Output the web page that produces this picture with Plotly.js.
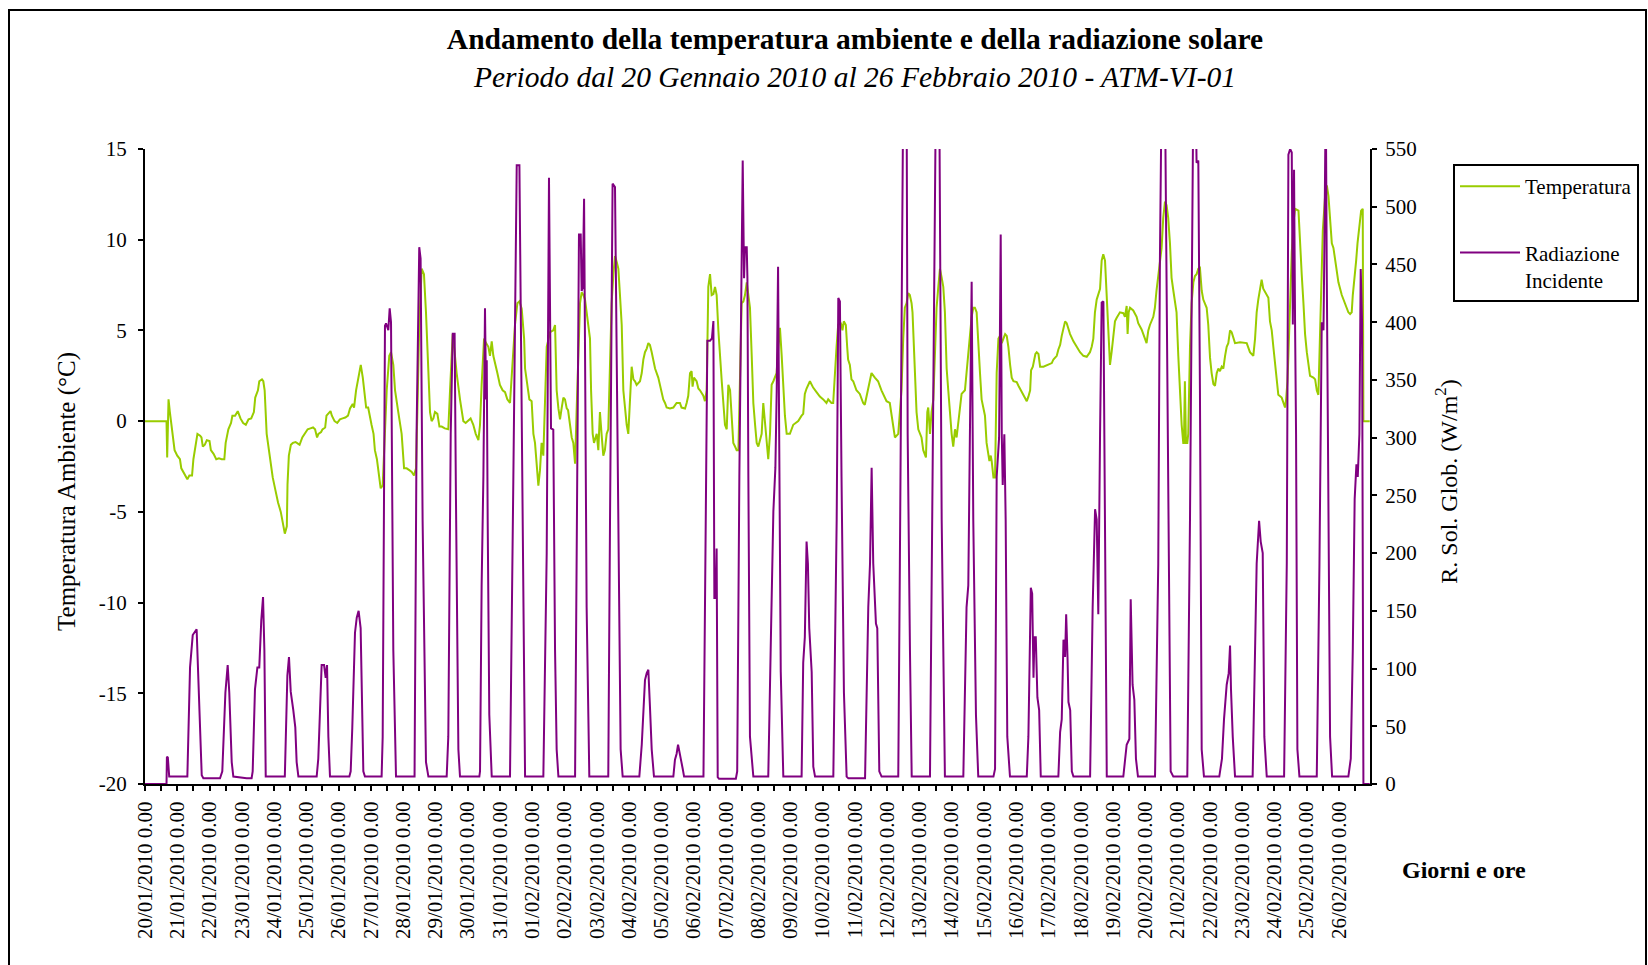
<!DOCTYPE html>
<html>
<head>
<meta charset="utf-8">
<script src="https://cdn.plot.ly/plotly-3.0.1.min.js"></script>
<style>html,body{margin:0;padding:0;background:#fff}#chart{width:1648px;height:965px}</style>
</head>
<body>
<div id="chart"></div>
<script>
// ---- DATA (hours elapsed since 20/01/2010 00:00, value) ----
const inizio = Date.UTC(2010, 0, 20);
const fineOre = 911.2;

const lettureTemperatura = [
[0,0],[16,0],[16.5,-2.0],[17.5,1.2],[18.5,0.5],[20,-0.45],[21,-1.2],[22,-1.6],[24,-1.9],[26,-2.1],[27,-2.6],[30,-3.0],[31.5,-3.2],[33,-3.0],[35,-3.0],[36,-2.1],[38,-1.2],[39,-0.7],[41,-0.8],[42,-0.9],[43,-1.4],[44.5,-1.3],[46,-1.05],[48,-1.1],[49,-1.6],[51,-1.8],[53,-2.1],[55,-2.05],[57,-2.1],[59,-2.1],[60,-1.2],[62,-0.45],[64,-0.1],[65,0.3],[67,0.3],[69,0.55],[71,0.15],[73,-0.1],[75,-0.2],[77,0.1],[79,0.15],[81,0.5],[82,1.3],[84,1.7],[85,2.2],[87,2.3],[88,2.2],[89,1.7],[90.5,-0.7],[92,-1.6],[93,-2.2],[95,-3.1],[97,-3.8],[99,-4.5],[101,-5.0],[102.5,-5.7],[104,-6.2],[105.5,-5.8],[106,-3.5],[107,-1.9],[108.5,-1.3],[110,-1.2],[112,-1.15],[114,-1.25],[115,-1.3],[117,-0.9],[119,-0.7],[121,-0.45],[123,-0.4],[125,-0.35],[126.5,-0.45],[128,-0.9],[129,-0.7],[131,-0.6],[132,-0.45],[134,-0.35],[135,0.3],[138,0.55],[139,0.3],[141,0],[143,-0.1],[145,0.1],[147,0.15],[149,0.2],[151,0.3],[152.5,0.7],[154.5,0.95],[155.5,0.75],[157,1.7],[159,2.65],[160.5,3.1],[162,2.4],[163,1.7],[164.5,0.75],[166,0.75],[167,0.3],[168.5,-0.2],[170,-0.7],[171,-1.6],[172.5,-2.1],[173.5,-2.6],[175.3,-3.7],[176.8,-3.55],[178.5,-0.5],[179.8,1.7],[181.7,3.6],[183,3.8],[184.7,3.1],[186,1.7],[188.4,0.5],[190.9,-0.7],[192.7,-2.6],[194.6,-2.6],[196.6,-2.7],[198.4,-2.8],[200.1,-3.0],[201.6,-2.6],[202.6,0.5],[204,5.3],[205.8,8.4],[207.5,8.1],[209,6.0],[210.8,2.9],[212,0.5],[213.2,0],[214.5,0.15],[215.7,0.5],[217.5,0.4],[219,-0.3],[220.7,-0.3],[223,-0.4],[225.6,-0.45],[226.9,1.7],[228.9,4.8],[230.3,3.8],[231.8,2.65],[234.3,1.2],[236.8,0],[238.5,-0.1],[240.5,0.05],[242.2,0.15],[244.2,-0.2],[246,-0.7],[248,-1.05],[249.2,-0.2],[250.4,2.0],[252.2,4.55],[253.7,4.3],[255.4,4.1],[256.6,3.6],[257.9,4.4],[259.1,3.6],[260.4,3.25],[262.1,2.65],[264,2.0],[266,1.7],[267.8,1.6],[269.5,1.2],[271.5,1.0],[273.5,3.1],[275.2,5.3],[277,6.5],[278.5,6.6],[280.2,6.2],[282,4.55],[282.7,2.9],[284.4,2.0],[285.9,1.2],[287.6,1.1],[288.9,-0.7],[290.1,-1.2],[291.3,-2.35],[292.6,-3.55],[293.8,-2.7],[295,-1.2],[296.3,-1.9],[297.5,1.7],[298.8,4.1],[301.3,4.9],[303.7,5.0],[305,5.3],[306.2,1.7],
[307.5,0.7],[308.7,0.1],[309.9,0.7],[311.2,1.3],[312.4,1.2],[313.7,0.7],[314.7,0.6],[316.1,-0.2],[317.4,-0.9],[318.6,-1.2],[319.9,-2.35],[321.1,0.7],[322.3,4.1],[323.6,6.5],[324.8,7.1],[326.1,6.95],[327.3,6.7],[328.5,6.0],[329.8,5.0],[331,4.55],[331.8,1.7],[333,-0.7],[334,-1.2],[336,-0.7],[337.2,-1.6],[338.4,0.5],[339.6,-0.7],[340.9,-1.9],[342.1,-1.6],[343.4,-0.7],[344.6,-0.45],[345.9,2.65],[347.1,6.5],[348.4,8.1],[349.6,9.1],[350.8,8.8],[352.1,8.4],[353.3,6.95],[354.6,5.3],[355.8,1.7],[357.1,0.5],[358.3,-0.2],[359.5,-0.7],[360.8,1.7],[362,3.0],[363.3,2.3],[364.5,2.2],[365.7,2.0],[368.2,2.2],[369.5,2.65],[370.7,3.4],[371.9,3.8],[373.2,4.0],[374.4,4.3],[375.6,4.2],[376.9,3.8],[378.1,3.4],[379.4,2.9],[381.8,2.4],[383.1,2.0],[384.3,1.7],[385.5,1.2],[386.8,1.0],[388,0.75],[390.5,0.7],[393,0.75],[395.4,1.0],[397.9,1.0],[399.1,0.75],[401.7,0.7],[402.9,1.0],[404.1,1.4],[405.4,2.65],[406.6,2.75],[407.3,1.9],[408.3,2.4],[410.3,2.2],[411.6,1.8],[412.8,1.7],[415.3,1.4],[416.5,1.1],[417.8,1.7],[419,7.4],[420.3,8.1],[421.5,6.95],[422.8,7.0],[424,7.4],[425.2,6.95],[426.5,5.0],[427.7,3.4],[429,2.2],[430.2,1.0],[431.4,-0.2],[432.7,-0.45],[433.9,2.0],[435.2,1.7],[436.4,0.3],[437.6,-1.2],[438.9,-1.4],[440.1,-1.6],[441.4,-1.6],[442.6,2.65],[443.8,6.5],[445.1,6.6],[446.3,6.95],[447.6,7.65],[448.8,6.95],[450,6.25],[451.3,3.6],[452.5,1.0],[453.8,-0.2],[455,-1.2],[456.2,-1.4],[458.7,-0.7],[459.9,1.0],[461.2,-0.2],[462.4,-1.2],[463.6,-2.1],[464.9,-0.7],[466.1,2.0],[467.4,2.2],[468.6,2.4],[469.8,2.65],[471.1,4.1],[472.3,5.15],[473.6,3.6],[474.8,1.7],[476,0.3],[477.3,-0.7],[479.7,-0.7],[482.2,-0.2],[485.9,0],[488.4,0.3],[489.6,0.4],[490.8,1.5],[492.1,1.8],[494.6,2.2],[497,1.85],[499.5,1.6],[502,1.35],[504.5,1.2],[506.9,1.0],[508.2,1.2],[510.6,1.0],[511.9,1.0],[513.1,2.65],[514.4,4.1],[515.6,5.3],[516.9,5.5],[518.1,5.3],[518.8,5.0],[519.8,5.5],[521.3,5.3],[522.3,4.1],[523,3.4],[524.3,3.1],[525.5,2.3],[526.8,2.2],[529.2,1.7],[531.7,1.5],[534.2,1.0],[535.4,0.9],[537.9,1.7],[540.4,2.65],[542.9,2.4],[545.3,2.2],[547.8,1.7],[551.6,1.1],[554,1.0],[555.3,0.3],[556.6,-0.4],[557.8,-0.9],[560.3,-0.7],[561.5,0.3],[562.7,1.7],[564,4.55],[565.2,6.25],[566.5,6.5],[567.7,7.05],[568.9,6.95],[570.2,6.5],[570.9,6.0],[571.9,4.1],[573.2,2.65],[573.9,0.5],[575.2,-0.45],[577.6,-0.9],[578.9,-1.6],[580.9,-2.0],[581.9,0.5],[582.6,0.75],[583.9,-0.7],[585.1,0.5],[586.4,1.2],[587.6,4.1],[588.8,6.25],[590.1,7.4],[591.3,8.4],[592.6,7.9],[593.8,7.4],[595,6.0],[596.3,2.9],[597.5,1.7],[598.8,0.3],[600,-0.7],[601.2,-1.4],[602.5,-0.45],[603.7,-0.9],[604.9,-0.2],[606.2,0.5],[607.4,1.5],[609.9,1.7],[611.1,2.65],[612.4,3.6],[613.6,4.8],[614.9,5.75],[616.1,6.25],[617.3,6.25],[618.6,6.0],[619.8,4.1],[621.1,2.65],[622.3,1.2],[623.5,0.75],[624.8,0.3],[626,-1.2],[627.3,-1.8],[628.1,-2.2],[629.1,-1.9],[629.8,-2.2],[631.1,-3.1],[632.3,-3.1],[633.5,2.65],
[634.8,4.55],[636,4.7],[637.3,4.3],[638.5,4.55],[639.8,4.8],[641,4.7],[642.2,4.1],[643.5,3.1],[644.7,2.4],[646,2.2],[648.4,2.15],[649.7,1.95],[652.2,1.6],[654.6,1.2],[655.9,1.1],[657.1,1.35],[658.4,1.7],[659.1,2.8],[660.4,3.0],[662.3,3.7],[663.3,3.8],[664.6,3.7],[665.8,3.0],[668.3,3.0],[672,3.1],[674.5,3.2],[675.7,3.4],[678.2,3.6],[679.4,3.95],[680.7,4.2],[681.9,4.7],[683.2,5.15],[684.4,5.5],[685.6,5.4],[688.1,4.8],[690.6,4.4],[693,4.1],[695.5,3.8],[698,3.6],[700.5,3.55],[702.9,3.8],[704.2,4.1],[705.4,4.55],[706.6,6.0],[707.9,6.7],[709.1,6.95],[710.4,7.3],[711.6,8.85],[712.8,9.2],[714.1,8.85],[715.3,6.95],[716.6,5.3],[717.8,3.1],[719,3.8],[720.3,4.55],[721.5,5.5],[722.8,5.7],[725.2,6.0],[727.7,5.95],[728.9,5.75],[730.2,6.35],[730.9,4.8],[731.7,6.0],[732.7,6.25],[735.1,6.1],[737.6,5.75],[738.8,5.4],[741.3,5.05],[743.8,4.55],[745,4.3],[746.3,5.0],[747.5,5.3],[750,5.75],[751.2,6.25],[752.4,7.2],[753.7,8.1],[754.9,8.85],[756.2,9.55],[757.4,11.2],[758.7,12.1],[759.9,11.9],[761.1,11.2],[762.4,9.8],[763.6,7.9],[764.9,7.2],[766.1,6.5],[767.3,6.0],[768.6,3.6],[769.8,1.7],[771.1,-0.2],[772.3,-1.2],[772.8,-1.2],[773.5,2.2],[774.3,-1.2],[775.3,-1.2],[776,-0.7],[777.3,4.1],[778.5,6.5],[779.8,7.65],[781,8.0],[782.2,8.1],[783.5,8.4],[784.7,8.45],[786,7.2],[787.2,6.7],[788.5,6.5],[789.7,6.25],[790.9,5.3],[792.2,3.5],[793.4,2.65],[794.7,2.05],[795.9,1.95],[797.2,2.65],[798.4,2.9],[799.6,2.75],[800.9,3.0],[802.1,2.9],[803.4,3.6],[804.6,4.1],[805.8,4.3],[807.1,5.0],[808.3,4.9],[809.6,4.55],[810.8,4.3],[814.5,4.35],[819.5,4.3],[821.9,3.8],[824.4,3.6],[825.7,4.55],[826.9,6.0],[828.1,6.7],[829.4,7.4],[830.6,7.8],[831.8,7.3],[834.3,6.95],[835.6,6.8],[836.8,5.5],[838.1,5.0],[839.3,4.1],[840.5,3.1],[841.8,2.2],[843,1.45],[845.5,1.3],[846.8,1.0],[848,0.75],[848.8,1.2],[849.8,2.2],[850.5,3.6],[851.8,7.4],[853,9.3],[854.3,11.0],[855.5,11.7],[858,11.6],[859.2,9.55],[860.4,8.1],[861.7,6.5],[862.9,4.8],[864.2,3.8],[865.4,3.1],[866.6,2.5],[869.1,2.4],[870.4,2.3],[871.6,1.7],[872.8,1.45],[873.6,3.6],[874.6,6.95],[876.1,10.5],[877.8,12.4],[879.1,13.0],[880.3,12.4],[881.5,11.2],[882.8,9.8],[884,9.55],[885.2,8.85],[886.5,8.1],[887.7,7.65],[890.2,6.95],[891.4,6.7],[893.9,6.25],[895.1,6.0],[896.4,5.9],[897.6,6.0],[898.4,6.95],[899.4,7.65],[900.9,8.85],[901.9,9.8],[903.3,10.75],[904.6,11.6],[905.8,11.7],[906.3,0],[911,0]
];

const lettureRadiazione = [
[0,0],[16,0],[16.3,23.6],[17,23],[18,6.4],[31.5,6.4],[33.5,101],[35.5,129],[38.4,134],[39.9,79],[42.2,7.5],[43.4,5],[55.8,5],[57.5,11],[59.8,79],[61.5,103],[62.7,79],[64.5,19],[65.7,6.4],[75.6,5],[79.3,5],[80.1,11],[81.8,82],[83.6,101],[85,101],[86.5,142],[87.8,162],[88.8,116],[89.8,6.4],[104,6.4],[104.9,41],[105.9,94],[107.1,110],[108.4,80],[110.3,64],[111.8,49],[112.8,19],[114.1,6.4],[127.7,6.4],[128.9,22],[131.4,103],[133.2,103],[134.4,92],[135.4,103],[136.4,41],[137.6,6.4],[152,6.4],[153,11],[154.2,49],[156.2,131],[157.5,144],[158.9,150],[160.4,135],[161.4,60],[162.4,11],[163.6,6.4],[176,6.4],[176.8,41],[178.5,397],[179.3,399],[181,393],[182,412],[183,400],[184.7,116],[186.7,6.4],[200.5,6.4],[202,303],[204,465],[205,455],[206.5,228],[209,19],[210.8,6.4],[224.4,6.4],[225.6,41],[227.4,303],[228.9,390],[230.3,390],[231.3,247],[233.1,30],[234.3,6.4],[248.7,6.4],[249.2,11],[250.4,172],[251.7,266],[252.9,412],[253.7,333],[254.2,367],[254.9,229],[256.1,60],[257.9,6.4],[271.5,6.4],[274,266],[276.5,536],[278.5,536],[280.2,303],[282.7,6.4],[296.3,6.4],[298.8,200],[300.5,525],[302,308],[303.7,307],[305,116],[306.2,30],[307.5,6.4],[319.9,6.4],[321.1,229],[322.8,476],[324.1,476],[324.8,427],[325.6,430],[326.6,507],[327.5,341],[328.5,153],[330.5,6.4],[344.6,6.4],[345.9,229],[347.8,520],[349.6,517],[350.8,378],[352.6,191],[353.8,30],[355.3,6.4],[367.7,6.4],[369.5,34],[370.7,64],[371.9,90],[373.2,96],[374.4,99],[375.6,67],[376.9,30],[378.6,6.4],[393,6.4],[394.2,21],[395.4,26],[396.5,34],[397.5,26],[398.5,22],[400,13],[401,6.4],[415.4,6.4],[417.3,260],[418.3,384],[420.3,384],[421.7,386],[422.8,401],[423.5,161],[424.5,161],[425.2,204],[426,6],[427,4.5],[439.5,4.5],[440.5,11],[442.1,266],[443.8,431],[444.6,540],[445.6,438],[446.3,465],[447.6,465],[448.1,438],[448.8,266],[450,41],[452.5,6.4],[463.6,6.4],[465.4,116],[466.6,176],[467.4,236],[468.9,274],[469.9,341],[470.9,448],[471.9,303],[472.9,97],[474.8,6.4],[488.4,6.4],[489.6,105],[490.8,127],[492.1,210],[493.1,191],[494.1,135],[495.9,97],[497.1,15],[498.4,6.4],[512,6.4],[514.5,229],[515.7,421],[516.9,418],[518.1,266],[519.9,79],[521.9,6.4],[523.2,4.9],[535.6,4.9],[536.3,41],[538,153],[539.3,191],[540.5,274],[541.7,191],[543.7,139],[544.7,135],[546.2,11],[547.9,6.4],[560.3,6.4],[561.5,191],[563.3,480],[564,600],[566.5,600],[567.3,303],[569,116],[570.3,6.4],[583.9,6.4],[586.4,341],[588.3,600],[590.8,600],[592.6,229],[595,6.4],[608.7,6.4],[611.1,153],[612.4,172],[613.6,303],[614.9,435],[616.1,229],[618.1,60],[619.8,6.4],[631.1,6.4],[632.3,13],[633.5,266],[635.3,300],[636.5,476],[637.3,303],[638,259],[639.2,303],[640.2,229],[641.4,41],[643.4,6.4],[655.9,6.4],[657.1,41],[658.9,170],[659.9,165],[660.9,92],[661.6,127],[662.6,127],[663.8,75],[665.1,64],[666.3,6.4],[679.4,6.4],[680.7,45],[681.9,56],[683.2,125],[684.4,110],[685.2,147],[686.2,110],[686.9,71],[688.2,64],[689.4,11],[690.6,6.4],[703,6.4],[704.9,153],[706.7,238],[707.9,229],[709.1,147],[710.4,303],[711.6,417],[712.9,418],[714.1,191],[715.4,6.4],[727.7,6.4],[728.9,22],[730.2,34],[732.2,39],[733.2,160],[734.6,86],[735.9,73],[737.1,22],[738.6,6.4],[751.3,6.4],[753.7,191],[754.9,450],[756.2,600],[758.7,600],[760.4,341],[762.9,11],[764.9,6.4],[775.3,6.4],[777.3,229],[779,500],[779.8,600],[781.5,600],[782.2,538],[783.5,540],[784.7,341],[786,30],[787.7,6.4],[799.1,6.4],[801.1,22],[802.6,56],[804.6,86],[806.1,96],[807.1,120],[807.8,82],[809.1,41],[810.8,6.4],[823.9,6.4],[825.7,116],[826.9,191],[828.7,228],[829.9,210],[831.4,200],[832.6,41],[834.4,6.4],[847.3,6.4],[849.3,191],[850.5,545],[851.8,550],[853,547],[853.8,398],[854.7,532],[855.5,393],[856.2,303],[857.2,30],[858.7,6.4],[871.6,6.4],[873.6,191],[875.3,400],[876.6,393],[877.3,468],[878.3,600],[879,450],[880.3,229],[881.5,41],[883,6.4],[895.1,6.4],[896.9,22],[898.4,116],[899.8,247],[901.1,277],[902.1,266],[903.3,303],[904.3,446],[905.3,400],[906.3,0],[911,0]
];

const valoriTickTemp = [-20, -15, -10, -5, 0, 5, 10, 15];
const etichetteTickTemp = ['-20', '-15', '-10', '-5', '0', '5', '10', '15'];

// ---- helpers ----
function oraInData(h) {
  const d = new Date(inizio + Math.round(h * 3600000));
  return d.toISOString().replace('T', ' ').slice(0, 19);
}

// ---- geometry ----
const W = 1648, H = 965;
const mL = 145, mR = 278, mT = 149, mB = 181;
const pw = W - mL - mR, ph = H - mT - mB;
const px = x => (x - mL) / pw;
const py = y => (H - mB - y) / ph;

const FONT = 'Liberation Serif, Times New Roman, serif';
const xRange = [oraInData(0), oraInData(fineOre)];
// trailing padding (non-breaking spaces closed by a zero-width space) to shift the rotated titles down
const pad = n => '\u00a0'.repeat(n) + '\u200b';

const tTemp = {
  x: lettureTemperatura.map(p => oraInData(p[0])),
  y: lettureTemperatura.map(p => p[1]),
  type: 'scatter', mode: 'lines', name: 'Temperatura',
  line: { color: '#99CC00', width: 2 },
  xaxis: 'x', yaxis: 'y', legendgroup: 'a'
};
const tRad = {
  x: lettureRadiazione.map(p => oraInData(p[0])),
  y: lettureRadiazione.map(p => p[1]),
  type: 'scatter', mode: 'lines', name: 'Radiazione<br>Incidente',
  line: { color: '#800080', width: 2 },
  xaxis: 'x', yaxis: 'y2', legendgroup: 'b'
};

const tickCommon = { tickcolor: '#000', tickwidth: 2, ticklen: 5, showgrid: false, zeroline: false };

const layout = {
  width: W, height: H,
  paper_bgcolor: '#fff', plot_bgcolor: '#fff',
  font: { family: FONT, color: '#000', size: 21 },
  margin: { l: mL, r: mR, t: mT, b: mB, autoexpand: false },
  title: {
    text: '<b>Andamento della temperatura ambiente e della radiazione solare</b><br><i>Periodo dal 20 Gennaio 2010 al 26 Febbraio 2010 - ATM-VI-01</i>',
    font: { family: FONT, size: 29.5, color: '#000' },
    x: 855 / W, xref: 'container', xanchor: 'center',
    y: 1 - 48.5 / H, yref: 'container', yanchor: 'top'
  },
  showlegend: true,
  legend: {
    x: px(1453), y: py(164), xanchor: 'left', yanchor: 'top',
    bordercolor: '#000', borderwidth: 2, bgcolor: '#fff',
    font: { family: FONT, size: 21, color: '#000' },
    traceorder: 'grouped', tracegroupgap: 36, valign: 'top',
    itemwidth: 60
  },
  xaxis: Object.assign({}, tickCommon, {
    type: 'date', range: xRange, anchor: 'y',
    tick0: oraInData(0), dtick: 86400000,
    tickformat: '%d/%m/%Y %-H.%M', tickangle: -90,
    ticks: 'outside', ticklabelstandoff: 2,
    tickfont: { family: FONT, size: 21, color: '#000' },
    showline: true, linecolor: '#000', linewidth: 2,
    minor: { tick0: oraInData(0), dtick: 43200000, ticks: 'outside', ticklen: 5, tickwidth: 2, tickcolor: '#000', showgrid: false }
  }),
  xaxis2: Object.assign({}, tickCommon, {
    type: 'date', range: xRange, overlaying: 'x', anchor: 'y', side: 'bottom',
    tick0: oraInData(0), dtick: 43200000, ticks: 'inside',
    showticklabels: false, showline: false
  }),
  yaxis: Object.assign({}, tickCommon, {
    range: [-20, 15], tickvals: valoriTickTemp, ticktext: etichetteTickTemp,
    ticks: 'outside', ticklabelstandoff: 7,
    tickfont: { family: FONT, size: 21, color: '#000' },
    showline: true, linecolor: '#000', linewidth: 2, anchor: 'x',
    title: { text: 'Temperatura Ambiente (°C)' + pad(8), font: { family: FONT, size: 25, color: '#000' }, standoff: 16 }
  }),
  yaxis2: Object.assign({}, tickCommon, {
    range: [0, 550], dtick: 50, tick0: 0, overlaying: 'y', side: 'right', anchor: 'x',
    ticks: 'outside', ticklabelstandoff: 4,
    tickfont: { family: FONT, size: 21, color: '#000' },
    showline: true, linecolor: '#000', linewidth: 2,
    title: { text: 'R. Sol. Glob. (W/m<sup>2</sup>)' + pad(5), font: { family: FONT, size: 24, color: '#000' }, standoff: 24 }
  }),
  yaxis3: Object.assign({}, tickCommon, {
    range: [-20, 15], dtick: 5, tick0: 0, overlaying: 'y', side: 'left', anchor: 'x',
    ticks: 'inside', showticklabels: false, showline: false
  }),
  yaxis4: Object.assign({}, tickCommon, {
    range: [0, 550], dtick: 50, tick0: 0, overlaying: 'y', side: 'right', anchor: 'x',
    ticks: 'inside', showticklabels: false, showline: false
  }),
  annotations: [{
    text: '<b>Giorni e ore</b>', xref: 'paper', yref: 'paper',
    x: px(1464), y: py(870), xanchor: 'center', yanchor: 'middle',
    showarrow: false, font: { family: FONT, size: 24, color: '#000' }
  }],
  shapes: [{
    type: 'rect', xref: 'paper', yref: 'paper',
    x0: px(9), x1: px(1646), y0: py(990), y1: py(10),
    line: { color: '#000', width: 2 }, fillcolor: 'rgba(0,0,0,0)', layer: 'below'
  }]
};

Plotly.newPlot('chart', [tTemp, tRad], layout, { displayModeBar: false, staticPlot: true });
</script>
</body>
</html>
